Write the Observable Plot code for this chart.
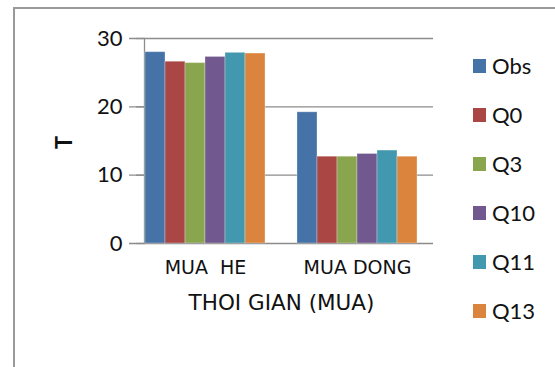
<!DOCTYPE html>
<html><head><meta charset="utf-8">
<script src="https://cdn.jsdelivr.net/npm/d3@7"></script>
<script src="https://cdn.jsdelivr.net/npm/@observablehq/plot@0.6"></script>
<style>
html,body{margin:0;padding:0;background:#fff;overflow:hidden}
#wrap{position:relative;width:555px;height:367px;overflow:hidden;font-family:Lato, sans-serif}
#border{position:absolute;left:13px;top:7px;width:620px;height:420px;border:2px solid #9a9a9a}
#chart{position:absolute;left:0;top:0}
#legend{position:absolute;left:473px;top:0}
.item{position:absolute;left:0;display:flex;align-items:center;white-space:nowrap;font-size:22px;line-height:24px;color:#111}
.sw{width:13px;height:14px;margin-right:6px;flex:none}
</style></head><body>
<div id="wrap"><div id="border"></div><div id="chart"></div><div id="legend"></div></div>
<script>
// Mean temperature T by season: observations vs. model runs
const seasons = ["MUA  HE", "MUA DONG"];
const series = ["Obs", "Q0", "Q3", "Q10", "Q11", "Q13"];
const summer = [28.0, 26.6, 26.4, 27.3, 27.9, 27.8];
const winter = [19.2, 12.7, 12.7, 13.1, 13.6, 12.7];
const colors = ["#4572A7", "#AA4643", "#89A54E", "#71588F", "#4198AF", "#DB843D"];
const yTicks = [0, 10, 20, 30];
const yLabel = "T";
const xLabel = "THOI GIAN (MUA)";

const rows = [summer, winter].flatMap((vals, s) =>
  vals.map((v, i) => ({season: seasons[s], series: series[i], value: v})));

const grey = "#8c8c8c";
const gap = 15; // half the space between the two season groups

const plot = Plot.plot({
  width: 555, height: 367,
  marginTop: 38, marginBottom: 124, marginLeft: 129, marginRight: 121,
  style: {fontFamily: "Lato, sans-serif", color: "#111", background: "transparent", overflow: "visible"},
  fx: {domain: seasons, paddingInner: 0.1967, paddingOuter: 0.0984, label: null},
  x: {domain: series, padding: 0, axis: null},
  y: {domain: [0, 30], ticks: yTicks},
  color: {domain: series, range: colors},
  marks: [
    // grid lines run on through the gaps between the season groups
    Plot.ruleY(yTicks, {stroke: grey, strokeWidth: 1.3, insetLeft: -gap, insetRight: -gap}),
    Plot.frame({anchor: "left", stroke: grey, strokeWidth: 1.3, facet: "super"}),
    Plot.barY(rows, {fx: "season", x: "series", y: "value", fill: "series", stroke: "white", strokeOpacity: 0.3, strokeWidth: 1}),
    Plot.axisY({ticks: yTicks, tickSize: 8, tickPadding: 14, fontSize: 22, stroke: grey, strokeWidth: 1.3, label: null}),
    Plot.axisFx({anchor: "bottom", tickSize: 0, tickPadding: 17, fontSize: 19, fontFamily: "DejaVu Sans", label: null}),
    Plot.text([xLabel], {frameAnchor: "bottom", dy: 66, fontSize: 21.5, fontFamily: "DejaVu Sans", facet: "super"}),
    Plot.text([yLabel], {frameAnchor: "left", dx: -80, dy: 8, rotate: -90, fontSize: 22, fontWeight: "bold", facet: "super"})
  ]
});
document.getElementById("chart").append(plot);

// Legend, one row per series, coloured through the plot's colour scale
const color = plot.scale("color");
const legend = document.getElementById("legend");
series.forEach((s, i) => {
  const item = document.createElement("div");
  item.className = "item";
  item.style.top = (66 - 12 + i * 49) + "px";
  const sw = document.createElement("span");
  sw.className = "sw";
  sw.style.background = color.apply(s);
  const label = document.createElement("span");
  label.textContent = s;
  item.append(sw, label);
  legend.append(item);
});
</script>
</body></html>
